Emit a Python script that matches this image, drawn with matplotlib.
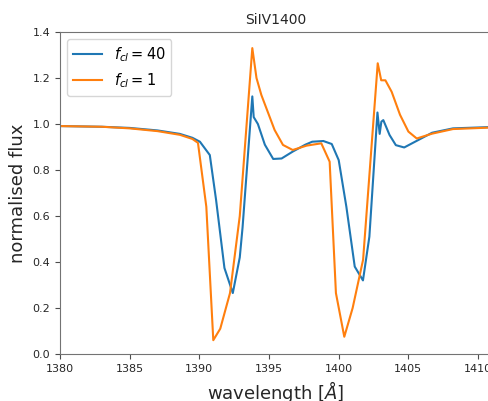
import matplotlib
matplotlib.use("Agg")
import matplotlib.pyplot as plt

# f_cl = 40
wl_40 = [1380.0, 1383.0, 1385.0, 1387.0, 1388.6, 1389.5, 1390.04, 1390.75, 1391.2, 1391.8,
         1392.4, 1392.9, 1393.1, 1393.8, 1393.9, 1394.2, 1394.7, 1395.3, 1395.9, 1396.7,
         1397.6, 1398.1, 1398.9, 1399.5, 1400.0, 1400.55, 1401.15, 1401.74, 1402.2, 1402.78,
         1402.94, 1403.06, 1403.2, 1403.65, 1404.1, 1404.7, 1405.7, 1406.7, 1408.2, 1411.5]
flux_40 = [0.991, 0.988, 0.983, 0.972, 0.957, 0.94, 0.923, 0.865, 0.67, 0.374,
           0.265, 0.42, 0.55, 1.12, 1.03, 1.0, 0.91, 0.848, 0.85, 0.88,
           0.91, 0.923, 0.926, 0.913, 0.843, 0.64, 0.38, 0.32, 0.51, 1.05,
           0.957, 1.01, 1.017, 0.952, 0.908, 0.898, 0.93, 0.962, 0.981, 0.988]

# f_cl = 1
wl_1 = [1380.0, 1383.0, 1385.0, 1387.0, 1388.6, 1389.5, 1389.9, 1390.5, 1391.0, 1391.5,
        1392.2, 1392.9, 1393.8, 1394.1, 1394.45, 1395.4, 1396.0, 1396.7, 1397.7, 1398.75,
        1399.35, 1399.8, 1400.4, 1401.0, 1401.75, 1402.8, 1403.05, 1403.35, 1403.8, 1404.4,
        1405.0, 1405.6, 1406.7, 1408.2, 1411.5]
flux_1 = [0.991, 0.988, 0.981, 0.969, 0.953, 0.935, 0.918, 0.64, 0.06, 0.11,
          0.265, 0.6, 1.33, 1.2, 1.126, 0.974, 0.909, 0.887, 0.906, 0.916,
          0.836, 0.265, 0.075, 0.2, 0.41, 1.264, 1.19, 1.19, 1.14, 1.04,
          0.967, 0.937, 0.958, 0.978, 0.986]

fig = plt.figure(figsize=(4.89, 4.01), dpi=100)
ax = fig.add_axes([60 / 489, 47 / 401, 432 / 489, 322 / 401])

ax.plot(wl_40, flux_40, color="#1f77b4", lw=1.5, label=r"$f_{cl} = 40$")
ax.plot(wl_1, flux_1, color="#ff7f0e", lw=1.5, label=r"$f_{cl} = 1$")

ax.set_xlim(1380, 1411)
ax.set_ylim(0, 1.4)
ax.set_xticks([1380, 1385, 1390, 1395, 1400, 1405, 1410])
ax.set_yticks([0.0, 0.2, 0.4, 0.6, 0.8, 1.0, 1.2, 1.4])
for s in ax.spines.values():
    s.set_color("0.45")
ax.tick_params(colors="0.15", labelsize=8, color="0.3")

ax.set_title("SiIV1400", fontsize=10, color="0.15")
ax.set_xlabel(r"wavelength [$\AA$]", fontsize=13, color="0.15")
ax.set_ylabel("normalised flux", fontsize=13, color="0.15")
ax.legend(loc="upper left", fontsize=10.5)

fig.savefig("out.png", dpi=100)
